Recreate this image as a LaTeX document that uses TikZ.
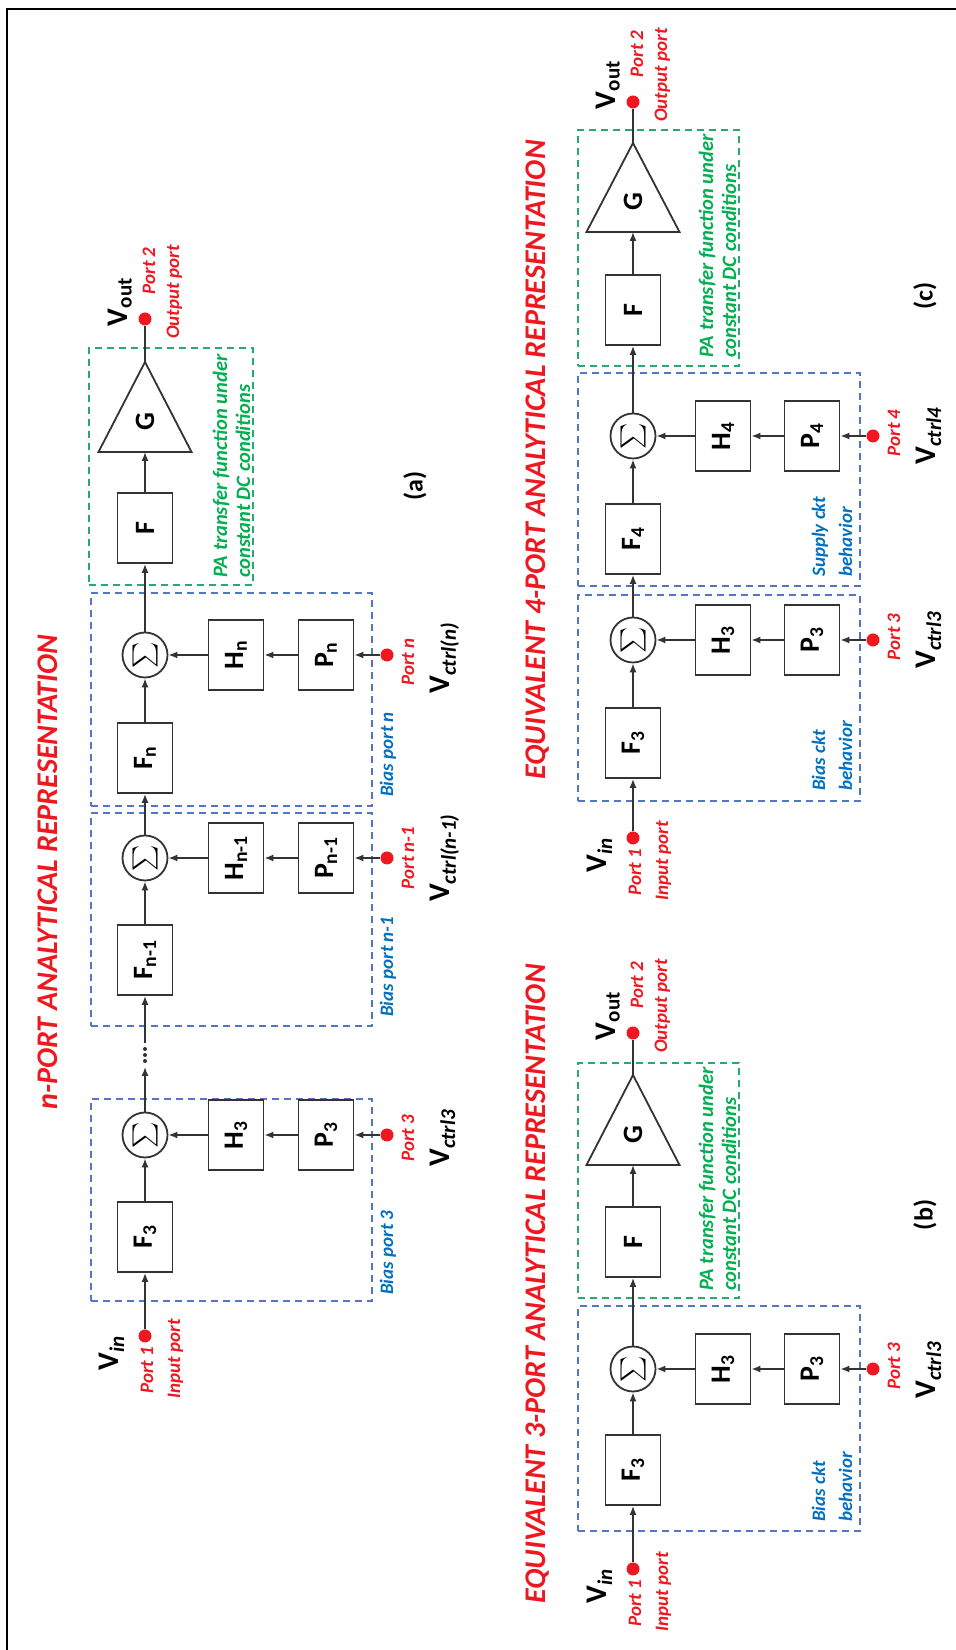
\documentclass[tikz,border=0pt]{standalone}
\usepackage{fontspec}
\setmainfont{Carlito}
\usepackage{xcolor}
\usepackage{tikz}
\usetikzlibrary{arrows.meta,positioning,calc,shapes.geometric}

\definecolor{portred}{RGB}{240,24,32}
\definecolor{biasblue}{RGB}{0,112,192}
\definecolor{boxblue}{RGB}{84,118,196}
\definecolor{pagreen}{RGB}{0,176,80}
\definecolor{boxgreen}{RGB}{40,170,110}

\tikzset{
  blk/.style={draw=black!80, line width=1.8pt, minimum width=70pt, minimum height=55pt, inner sep=0pt, font=\bfseries\fontsize{28}{28}\selectfont},
  glbl/.style={inner sep=0pt, font=\bfseries\fontsize{28}{28}\selectfont},
  sumnode/.style={circle, draw=black!80, line width=1.8pt, minimum size=45pt, inner sep=0pt, font=\normalsize},
  tri/.style={draw=black!80, line width=1.8pt},
  port/.style={circle, fill=portred, inner sep=0pt, minimum size=13pt},
  sig/.style={-{Latex[length=9pt,width=7pt]}, line width=1.5pt, black!80},
  wire/.style={line width=1.5pt, black!80},
  biasbox/.style={draw=boxblue, line width=1.6pt, dash pattern=on 7pt off 5pt},
  pabox/.style={draw=boxgreen, line width=1.6pt, dash pattern=on 7pt off 5pt},
  ttl/.style={portred, inner sep=0pt, font=\bfseries\itshape\fontsize{30}{30}\selectfont},
  portlbl/.style={portred, inner sep=0pt, font=\bfseries\itshape\fontsize{19}{19}\selectfont},
  biaslbl/.style={biasblue, inner sep=0pt, font=\bfseries\itshape\fontsize{19}{19}\selectfont},
  palbl/.style={pagreen, inner sep=0pt, font=\bfseries\itshape\fontsize{20.5}{20.5}\selectfont},
  vlbl/.style={inner sep=0pt, font=\bfseries\fontsize{30}{30}\selectfont},
  caplbl/.style={inner sep=0pt, font=\bfseries\fontsize{26}{26}\selectfont},
}
\newcommand{\sumsign}{\scalebox{2.5}{$\sum$}}

\begin{document}
\begin{tikzpicture}[x=1pt, y=1pt]
\useasboundingbox (0,0) rectangle (956,1650);
% frame, only top and left edges
\draw[line width=2.4pt] (7,0) -- (7,1641) -- (956,1641);

\begin{scope}[rotate=90, transform shape]
% ===== (a) n-port =====
\node[ttl, anchor=base] (ttla) at (778,-57) {n-PORT ANALYTICAL REPRESENTATION};
% dashed groups
\draw[biasbox] (349,-91) rectangle (551,-372);
\draw[biasbox] (624,-91) rectangle (837,-372);
\draw[biasbox] (844,-91) rectangle (1057,-372);
\draw[pabox] (1065,-89) rectangle (1302,-253);
% input
\node[port] (ain) at (314,-145) {};
\node[vlbl, anchor=base] (vina) at (297,-118) {V\textsubscript{\textit{in}}};
\node[portlbl, anchor=base] (p1a) at (280,-153) {Port 1};
\node[portlbl, anchor=base] (ipa) at (291,-180) {Input port};
% bias port 3
\node[blk] (aF3) at (413,-145) {F\textsubscript{3}};
\node[sumnode] (aS3) at (515,-145) {\sumsign};
\node[blk] (aH3) at (515,-236) {H\textsubscript{3}};
\node[blk] (aP3) at (515,-326) {P\textsubscript{3}};
\node[port] (ap3) at (515,-387) {};
\node[portlbl, anchor=base] (p3a) at (512,-414) {Port 3};
\node[vlbl, anchor=base] (vc3a) at (512,-449) {V\textsubscript{\textit{ctrl3}}};
\node[biaslbl, anchor=base west] (b3a) at (355,-393) {Bias port 3};
% bias port n-1
\node[blk] (aFm) at (690,-145) {F\textsubscript{n-1}};
\node[sumnode] (aSm) at (792,-145) {\sumsign};
\node[blk] (aHm) at (792,-236) {H\textsubscript{n-1}};
\node[blk] (aPm) at (792,-326) {P\textsubscript{n-1}};
\node[port] (apm) at (792,-387) {};
\node[portlbl, anchor=base] (pma) at (792,-414) {Port n-1};
\node[vlbl, anchor=base] (vcma) at (792,-449) {V\textsubscript{\textit{ctrl(n-1)}}};
\node[biaslbl, anchor=base west] (bma) at (633,-393) {Bias port n-1};
% bias port n
\node[blk] (aFn) at (892,-145) {F\textsubscript{n}};
\node[sumnode] (aSn) at (995,-145) {\sumsign};
\node[blk] (aHn) at (995,-236) {H\textsubscript{n}};
\node[blk] (aPn) at (995,-326) {P\textsubscript{n}};
\node[port] (apn) at (995,-387) {};
\node[portlbl, anchor=base] (pna) at (988,-414) {Port n};
\node[vlbl, anchor=base] (vcna) at (992,-449) {V\textsubscript{\textit{ctrl(n)}}};
\node[biaslbl, anchor=base west] (bna) at (853,-393) {Bias port n};
% PA core
\node[blk] (aF) at (1122,-145) {F};
\draw[tri] (1198,-98.5) -- (1288,-145) -- (1198,-191.5) -- cycle;
\coordinate (aGi) at (1198,-145);
\coordinate (aGo) at (1288,-145);
\node[glbl] (aG) at (1228,-145) {G};
\node[palbl, anchor=base west] (pa1) at (1072,-227) {PA transfer function under};
\node[palbl, anchor=base west] (pa2) at (1072,-250) {constant DC conditions};
% output
\node[port] (aout) at (1331,-145) {};
\node[vlbl, anchor=base] (vouta) at (1348,-127) {V\textsubscript{out}};
\node[portlbl, anchor=base] (p2a) at (1379,-155) {Port 2};
\node[portlbl, anchor=base] (opa) at (1358,-179) {Output port};
\node[caplbl] (capa) at (1164,-415) {(a)};
% connectors
\draw[sig] (ain) -- (aF3);
\draw[sig] (aF3) -- (aS3);
\coordinate (adin) at (583,-145);
\coordinate (adout) at (607,-145);
\draw[sig] (aS3) -- (adin);
\foreach \d in {589,595,601} \fill[black!80] (\d,-145) circle (2pt);
\draw[sig] (adout) -- (aFm);
\draw[sig] (aFm) -- (aSm);
\draw[sig] (aSm) -- (aFn);
\draw[sig] (aFn) -- (aSn);
\draw[sig] (aSn) -- (aF);
\draw[sig] (aF) -- (aGi);
\draw[wire] (aGo) -- (aout);
\draw[sig] (ap3) -- (aP3);
\draw[sig] (aP3) -- (aH3);
\draw[sig] (aH3) -- (aS3);
\draw[sig] (apm) -- (aPm);
\draw[sig] (aPm) -- (aHm);
\draw[sig] (aHm) -- (aSm);
\draw[sig] (apn) -- (aPn);
\draw[sig] (aPn) -- (aHn);
\draw[sig] (aHn) -- (aSn);

% ===== (b) equivalent 3-port =====
\node[ttl, anchor=base] (ttlb) at (366,-545) {EQUIVALENT 3-PORT ANALYTICAL REPRESENTATION};
\draw[biasbox] (119,-578) rectangle (344,-860);
\draw[pabox] (352,-578) rectangle (587,-739);
\node[port] (bin) at (81,-633) {};
\node[vlbl, anchor=base] (vinb) at (64,-606) {V\textsubscript{\textit{in}}};
\node[portlbl, anchor=base] (p1b) at (47,-641) {Port 1};
\node[portlbl, anchor=base] (ipb) at (58,-668) {Input port};
\node[blk] (bF3) at (180,-633) {F\textsubscript{3}};
\node[sumnode] (bS3) at (281,-633) {\sumsign};
\node[blk] (bH3) at (281,-723) {H\textsubscript{3}};
\node[blk] (bP3) at (281,-812) {P\textsubscript{3}};
\node[port] (bp3) at (281,-873) {};
\node[portlbl, anchor=base] (p3b) at (284,-900) {Port 3};
\node[vlbl, anchor=base] (vc3b) at (280,-935) {V\textsubscript{\textit{ctrl3}}};
\node[biaslbl, anchor=base west] (bb1) at (128,-825) {Bias ckt};
\node[biaslbl, anchor=base west] (bb2) at (128,-852) {behavior};
\node[blk] (bF) at (408,-633) {F};
\draw[tri] (485,-586.5) -- (575,-633) -- (485,-679.5) -- cycle;
\coordinate (bGi) at (485,-633);
\coordinate (bGo) at (575,-633);
\node[glbl] (bG) at (515,-633) {G};
\node[palbl, anchor=base west] (pb1) at (359,-713) {PA transfer function under};
\node[palbl, anchor=base west] (pb2) at (359,-736) {constant DC conditions};
\node[port] (bout) at (617,-633) {};
\node[vlbl, anchor=base] (voutb) at (634,-615) {V\textsubscript{out}};
\node[portlbl, anchor=base] (p2b) at (665,-643) {Port 2};
\node[portlbl, anchor=base] (opb) at (644,-667) {Output port};
\node[caplbl] (capb) at (435,-925) {(b)};
\draw[sig] (bin) -- (bF3);
\draw[sig] (bF3) -- (bS3);
\draw[sig] (bS3) -- (bF);
\draw[sig] (bF) -- (bGi);
\draw[wire] (bGo) -- (bout);
\draw[sig] (bp3) -- (bP3);
\draw[sig] (bP3) -- (bH3);
\draw[sig] (bH3) -- (bS3);

% ===== (c) equivalent 4-port =====
\node[ttl, anchor=base] (ttlc) at (1190,-545) {EQUIVALENT 4-PORT ANALYTICAL REPRESENTATION};
\draw[biasbox] (849,-578) rectangle (1055,-860);
\draw[biasbox] (1064,-578) rectangle (1277,-860);
\draw[pabox] (1284,-578) rectangle (1520,-739);
\node[port] (cin) at (812,-633) {};
\node[vlbl, anchor=base] (vinc) at (795,-606) {V\textsubscript{\textit{in}}};
\node[portlbl, anchor=base] (p1c) at (778,-641) {Port 1};
\node[portlbl, anchor=base] (ipc) at (789,-668) {Input port};
% bias circuit
\node[blk] (cF3) at (907,-633) {F\textsubscript{3}};
\node[sumnode] (cS3) at (1010,-633) {\sumsign};
\node[blk] (cH3) at (1010,-723) {H\textsubscript{3}};
\node[blk] (cP3) at (1010,-812) {P\textsubscript{3}};
\node[port] (cp3) at (1010,-873) {};
\node[portlbl, anchor=base] (p3c) at (1013,-900) {Port 3};
\node[vlbl, anchor=base] (vc3c) at (1010,-935) {V\textsubscript{\textit{ctrl3}}};
\node[biaslbl, anchor=base west] (cb1) at (859,-825) {Bias ckt};
\node[biaslbl, anchor=base west] (cb2) at (859,-852) {behavior};
% supply circuit
\node[blk] (cF4) at (1111,-633) {F\textsubscript{4}};
\node[sumnode] (cS4) at (1214,-633) {\sumsign};
\node[blk] (cH4) at (1214,-723) {H\textsubscript{4}};
\node[blk] (cP4) at (1214,-812) {P\textsubscript{4}};
\node[port] (cp4) at (1214,-873) {};
\node[portlbl, anchor=base] (p4c) at (1217,-900) {Port 4};
\node[vlbl, anchor=base] (vc4c) at (1214,-935) {V\textsubscript{\textit{ctrl4}}};
\node[biaslbl, anchor=base west] (cs1) at (1073,-825) {Supply ckt};
\node[biaslbl, anchor=base west] (cs2) at (1073,-852) {behavior};
% PA core
\node[blk] (cF) at (1340,-633) {F};
\draw[tri] (1418,-586.5) -- (1507,-633) -- (1418,-679.5) -- cycle;
\coordinate (cGi) at (1418,-633);
\coordinate (cGo) at (1507,-633);
\node[glbl] (cG) at (1448,-633) {G};
\node[palbl, anchor=base west] (pc1) at (1292,-713) {PA transfer function under};
\node[palbl, anchor=base west] (pc2) at (1292,-736) {constant DC conditions};
\node[port] (cout) at (1548,-633) {};
\node[vlbl, anchor=base] (voutc) at (1565,-615) {V\textsubscript{out}};
\node[portlbl, anchor=base] (p2c) at (1596,-643) {Port 2};
\node[portlbl, anchor=base] (opc) at (1575,-667) {Output port};
\node[caplbl] (capc) at (1354,-925) {(c)};
\draw[sig] (cin) -- (cF3);
\draw[sig] (cF3) -- (cS3);
\draw[sig] (cS3) -- (cF4);
\draw[sig] (cF4) -- (cS4);
\draw[sig] (cS4) -- (cF);
\draw[sig] (cF) -- (cGi);
\draw[wire] (cGo) -- (cout);
\draw[sig] (cp3) -- (cP3);
\draw[sig] (cP3) -- (cH3);
\draw[sig] (cH3) -- (cS3);
\draw[sig] (cp4) -- (cP4);
\draw[sig] (cP4) -- (cH4);
\draw[sig] (cH4) -- (cS4);
\end{scope}
\end{tikzpicture}
\end{document}
